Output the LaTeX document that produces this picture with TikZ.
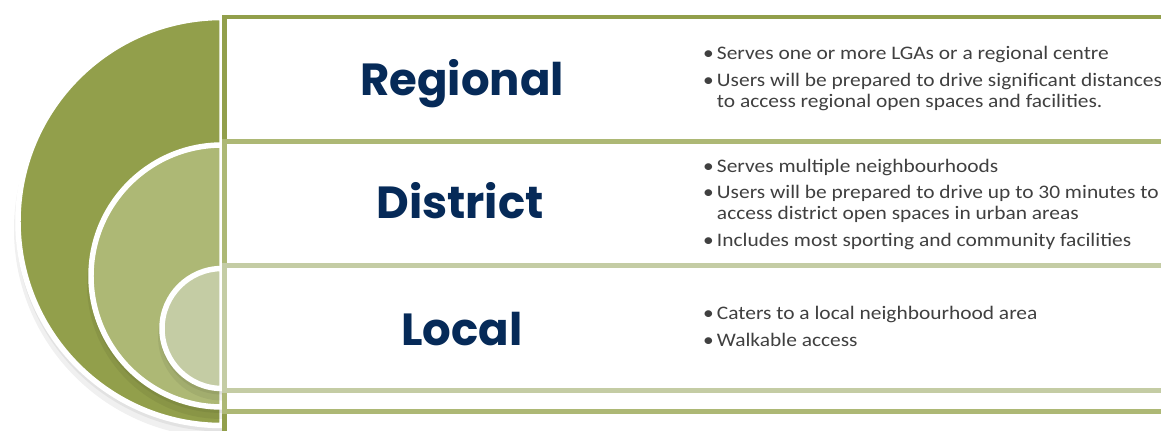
\documentclass[tikz,border=0pt]{standalone}
\usepackage{fontspec}
\setmainfont{Carlito}
\newfontfamily\notefont[FakeStretch=1.12]{Carlito}
\newfontfamily\headfont{Poppins}
\usetikzlibrary{positioning}
\definecolor{regcol}{RGB}{146,159,75}
\definecolor{distcol}{RGB}{173,184,117}
\definecolor{loccol}{RGB}{196,204,164}
\definecolor{navy}{RGB}{6,42,88}
\definecolor{notegray}{RGB}{64,64,64}
\newcommand{\itm}{\llap{\textbullet\hspace{2.2pt}}}
\newcommand{\halfdisc}[3]{%
	\fill[halo] (222,#2-4) arc[start angle=90,end angle=270,radius=#3+4] -- cycle;
	\fill[halo] (222,#2-2) arc[start angle=90,end angle=270,radius=#3+2] -- cycle;
	\filldraw[ring,fill=#1] (222,#2) arc[start angle=90,end angle=270,radius=#3] -- cycle;}
\tikzset{
	ring/.style={draw=white,line width=3.9pt},
	halo/.style={fill=black,opacity=0.06},
	band/.style={draw=#1,line width=3.1pt,fill=white},
	level/.style={font=\headfont\bfseries\fontsize{32}{36}\selectfont,text=navy,anchor=base,inner sep=0pt},
	notes/.style={font=\notefont\fontsize{13.6}{15.1}\selectfont,text=notegray,align=left,anchor=base west,inner sep=0pt},
}
\begin{document}
\begin{tikzpicture}[x=0.025cm,y=0.025cm]
	\useasboundingbox (0,0) rectangle (1161,430);
	\halfdisc{regcol}{412.5}{204}
	\draw[band=regcol] (224.5,413) rectangle (1180,-4);
	\halfdisc{distcol}{285}{131}
	\draw[band=distcol] (224.5,288.5) rectangle (1180,18.5);
	\halfdisc{loccol}{161.5}{60}
	\draw[band=loccol] (224.5,164.5) rectangle (1180,39.5);

	\node[level] (regional) at (462,335) {Regional};
	\node[level] (district) at (460,212) {District};
	\node[level] (local) at (462,85) {Local};

	\node[notes] (regnotes) at (716.7,322.7) {\itm Serves one or more LGAs or a regional centre\\[3.9pt]
		\itm Users will be prepared to drive significant distances\\
		to access regional open spaces and facilities.};
	\node[notes] (distnotes) at (716.7,183.3) {\itm Serves multiple neighbourhoods\\[3.9pt]
		\itm Users will be prepared to drive up to 30 minutes to\\
		access district open spaces in urban areas\\[3.9pt]
		\itm Includes most sporting and community facilities};
	\node[notes] (locnotes) at (716.7,83.3) {\itm Caters to a local neighbourhood area\\[3.9pt]
		\itm Walkable access};
\end{tikzpicture}
\end{document}
